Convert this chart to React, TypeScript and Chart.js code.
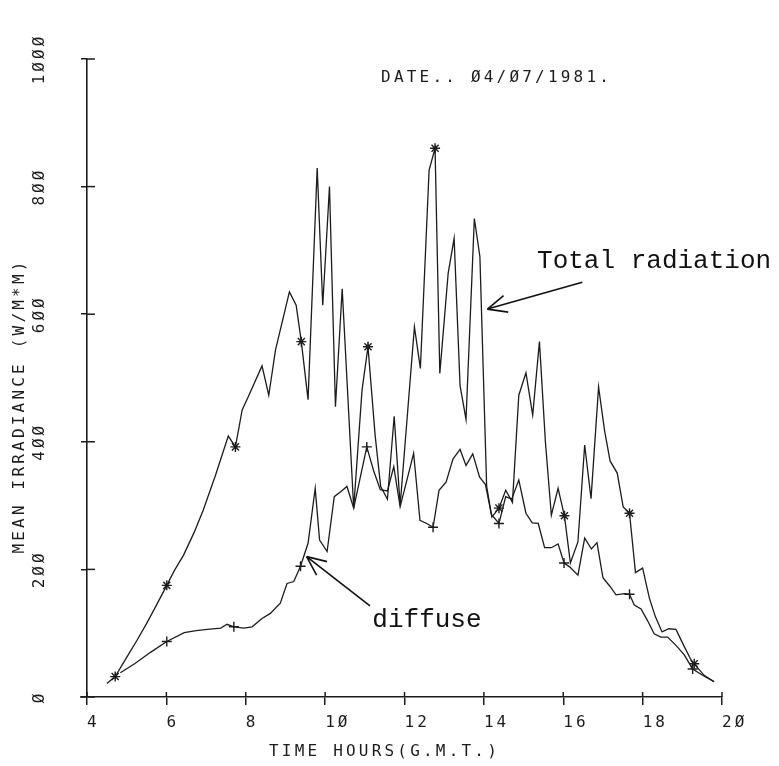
import React, { useEffect, useRef } from 'react';
import { Chart, registerables } from 'chart.js';

Chart.register(...registerables);

// ---------------- data ----------------
const totalTimes = [
  4.5, 4.71, 5.0, 5.26, 5.5, 5.75, 6.01, 6.2, 6.43, 6.7, 6.93, 7.24, 7.56, 7.74, 7.91, 8.08, 8.41, 8.58, 8.75,
  9.1, 9.27, 9.4, 9.57, 9.8, 9.94, 10.11, 10.26, 10.43, 10.72, 10.93, 11.08, 11.26, 11.4, 11.57, 11.74, 11.89,
  12.07, 12.25, 12.4, 12.62, 12.77, 12.89, 13.1, 13.25, 13.4, 13.55, 13.76, 13.9, 14.07, 14.2, 14.38, 14.55,
  14.72, 14.88, 15.06, 15.23, 15.4, 15.55, 15.7, 15.87, 16.03, 16.18, 16.37, 16.54, 16.7, 16.89, 17.04, 17.18,
  17.36, 17.51, 17.67, 17.82, 18.0, 18.17, 18.32, 18.49, 18.66, 18.84, 19.05, 19.22, 19.3, 19.55, 19.8,
];
const totalValues = [
  21, 32, 62, 89, 115, 144, 175, 198, 222, 258, 293, 348, 409, 392, 450, 473, 519, 473, 544,
  635, 614, 557, 466, 829, 614, 800, 455, 640, 296, 481, 549, 410, 330, 310, 440, 300,
  440, 580, 515, 826, 860, 507, 664, 719, 488, 435, 750, 690, 330, 282, 296, 324,
  305, 473, 508, 442, 557, 400, 285, 327, 284, 210, 243, 395, 311, 486, 418, 370,
  351, 298, 288, 195, 202, 155, 126, 102, 107, 106, 79, 58, 52, 34, 24,
];
const totalMarkerIdx = [1, 6, 13, 21, 30, 40, 50, 60, 70, 80];

const diffuseTimes = [
  4.84, 5.2, 5.6, 6.01, 6.45, 6.75, 7.03, 7.37, 7.53, 7.7, 7.95, 8.16, 8.41, 8.62, 8.87, 9.04, 9.21, 9.38,
  9.57, 9.75, 9.86, 10.05, 10.23, 10.4, 10.55, 10.72, 11.05, 11.22, 11.39, 11.57, 11.73, 11.89, 12.06, 12.23,
  12.39, 12.56, 12.72, 12.87, 13.05, 13.22, 13.4, 13.55, 13.72, 13.89, 14.04, 14.19, 14.38, 14.55, 14.7,
  14.88, 15.06, 15.22, 15.37, 15.53, 15.7, 15.87, 16.02, 16.16, 16.37, 16.54, 16.71, 16.85, 17.0, 17.17,
  17.33, 17.54, 17.67, 17.79, 17.96, 18.13, 18.29, 18.46, 18.63, 18.84, 19.05, 19.26, 19.51, 19.8,
];
const diffuseValues = [
  38, 52, 70, 87, 101, 104, 106, 108, 114, 110, 108, 110, 123, 131, 147, 178, 181, 205,
  241, 327, 246, 228, 314, 322, 330, 296, 392, 355, 325, 323, 361, 298, 340, 382,
  277, 272, 266, 324, 337, 373, 388, 363, 381, 345, 333, 286, 272, 314, 310,
  340, 288, 273, 272, 234, 234, 240, 210, 204, 191, 249, 232, 242, 187, 174,
  160, 162, 161, 144, 138, 119, 99, 94, 94, 81, 66, 44, 34, 24,
];
const diffuseMarkerIdx = [3, 9, 17, 26, 36, 46, 56, 66, 75];

const xTickValues = [4, 6, 8, 10, 12, 14, 16, 18, 20];
const xTickLabels = ['4', '6', '8', '1Ø', '12', '14', '16', '18', '2Ø'];
const yTickValues = [0, 200, 400, 600, 800, 1000];
const yTickLabels = ['Ø', '2ØØ', '4ØØ', '6ØØ', '8ØØ', '1ØØØ'];

const titleText = 'DATE.. Ø4/Ø7/1981.';
const xAxisTitle = 'TIME HOURS(G.M.T.)';
const yAxisTitle = 'MEAN IRRADIANCE (W/M*M)';
const totalLabel = 'Total radiation';
const diffuseLabel = 'diffuse';

// annotation anchors in data units [hours, W/m2]
const titlePos = [11.41, 970];
const totalLabelPos = [15.34, 672];
const totalArrowTip = [14.09, 608];
const totalArrowTail = [16.48, 650];
const diffuseLabelPos = [11.19, 109];
const diffuseArrowTip = [9.535, 220];
const diffuseArrowTail = [11.13, 143];

// ---------------- styling ----------------
const INK = '#1c1c1c';
const PLOT_FONT = '"DejaVu Sans Mono", monospace';
const TYPE_FONT = '"Liberation Mono", "Courier New", monospace';

const decorPlugin = {
  id: 'decor',
  beforeLayout(chart: any) {
    chart.ctx.letterSpacing = '3px';
  },
  beforeDraw(chart: any) {
    const ctx = chart.ctx;
    ctx.save();
    ctx.fillStyle = '#ffffff';
    ctx.fillRect(0, 0, chart.width, chart.height);
    ctx.restore();
    ctx.letterSpacing = '3px';
  },
  afterDraw(chart: any) {
    const { ctx, chartArea: ca, scales } = chart;
    const xs = scales.x;
    const ys = scales.y;
    const px = (v: number) => xs.getPixelForValue(v);
    const py = (v: number) => ys.getPixelForValue(v);
    const line = (x1: number, y1: number, x2: number, y2: number) => {
      ctx.beginPath();
      ctx.moveTo(x1, y1);
      ctx.lineTo(x2, y2);
      ctx.stroke();
    };
    ctx.save();
    ctx.strokeStyle = INK;
    ctx.lineWidth = 1.5;
    // inward halves of tick marks
    xs.ticks.forEach((t: any) => line(px(t.value), ca.bottom, px(t.value), ca.bottom - 5));
    ys.ticks.forEach((t: any) => line(ca.left, py(t.value), ca.left + 8, py(t.value)));
    line(ca.left - 7, ca.bottom, ca.left, ca.bottom);

    // plotter texts
    ctx.fillStyle = INK;
    ctx.font = `16px ${PLOT_FONT}`;
    ctx.letterSpacing = '3.2px';
    ctx.textBaseline = 'middle';
    ctx.textAlign = 'left';
    ctx.fillText(titleText, px(titlePos[0]), py(titlePos[1]));
    ctx.textAlign = 'center';
    ctx.fillText(xAxisTitle, (ca.left + ca.right) / 2 - 20, ca.bottom + 55);
    ctx.save();
    ctx.translate(20, (ca.top + ca.bottom) / 2 + 28);
    ctx.rotate(-Math.PI / 2);
    ctx.fillText(yAxisTitle, 0, 0);
    ctx.restore();

    // typed annotations
    ctx.letterSpacing = '0px';
    ctx.font = `26px ${TYPE_FONT}`;
    ctx.fillStyle = '#111';
    ctx.textAlign = 'left';
    ctx.textBaseline = 'alphabetic';
    ctx.fillText(totalLabel, px(totalLabelPos[0]), py(totalLabelPos[1]));
    ctx.fillText(diffuseLabel, px(diffuseLabelPos[0]), py(diffuseLabelPos[1]));

    const arrow = (tip: number[], tail: number[]) => {
      const tx = px(tip[0]);
      const ty = py(tip[1]);
      const sx = px(tail[0]);
      const sy = py(tail[1]);
      ctx.strokeStyle = '#111';
      ctx.lineWidth = 1.6;
      line(sx, sy, tx, ty);
      const a = Math.atan2(sy - ty, sx - tx);
      const len = 21;
      line(tx, ty, tx + len * Math.cos(a + 0.42), ty + len * Math.sin(a + 0.42));
      line(tx, ty, tx + len * Math.cos(a - 0.42), ty + len * Math.sin(a - 0.42));
    };
    arrow(totalArrowTip, totalArrowTail);
    arrow(diffuseArrowTip, diffuseArrowTail);
    ctx.restore();
  },
};

export default function App() {
  const canvasRef = useRef<HTMLCanvasElement | null>(null);

  useEffect(() => {
    const canvas = canvasRef.current;
    if (!canvas) return;
    const totalData = totalTimes.map((t, i) => ({ x: t, y: totalValues[i] }));
    const diffuseData = diffuseTimes.map((t, i) => ({ x: t, y: diffuseValues[i] }));
    const chart = new Chart(canvas, {
      type: 'line',
      data: {
        datasets: [
          {
            label: 'Total radiation',
            data: totalData,
            borderColor: INK,
            borderWidth: 1.3,
            tension: 0,
            fill: false,
            pointStyle: 'star',
            pointRadius: totalTimes.map((_, i) => (totalMarkerIdx.includes(i) ? 5 : 0)),
            pointBorderColor: INK,
            pointBackgroundColor: INK,
            pointBorderWidth: 1.4,
          },
          {
            label: 'diffuse',
            data: diffuseData,
            borderColor: INK,
            borderWidth: 1.3,
            tension: 0,
            fill: false,
            pointStyle: 'cross',
            pointRadius: diffuseTimes.map((_, i) => (diffuseMarkerIdx.includes(i) ? 5 : 0)),
            pointBorderColor: INK,
            pointBackgroundColor: INK,
            pointBorderWidth: 1.4,
          },
        ],
      },
      options: {
        responsive: false,
        animation: false,
        events: [],
        layout: { padding: { top: 59, right: 57, left: 0, bottom: 0 } },
        plugins: { legend: { display: false }, title: { display: false }, tooltip: { enabled: false } },
        scales: {
          x: {
            type: 'linear',
            min: 4,
            max: 20,
            afterBuildTicks: (s: any) => {
              s.ticks = xTickValues.map((v) => ({ value: v }));
            },
            afterFit: (s: any) => {
              s.height = 69;
            },
            border: { display: true, color: INK, width: 1.6 },
            grid: { drawOnChartArea: false, drawTicks: true, tickLength: 8, color: INK, lineWidth: 1.5 },
            ticks: {
              color: INK,
              font: { family: PLOT_FONT, size: 16 },
              align: 'start',
              padding: 8,
              maxRotation: 0,
              callback: (_v: any, i: number) => xTickLabels[i],
            },
          },
          y: {
            type: 'linear',
            min: 0,
            max: 1000,
            afterBuildTicks: (s: any) => {
              s.ticks = yTickValues.map((v) => ({ value: v }));
            },
            afterFit: (s: any) => {
              s.width = 87;
            },
            border: { display: true, color: INK, width: 1.6 },
            grid: { drawOnChartArea: false, drawTicks: true, tickLength: 6, color: INK, lineWidth: 1.5 },
            ticks: {
              color: INK,
              font: { family: PLOT_FONT, size: 16 },
              minRotation: 90,
              maxRotation: 90,
              crossAlign: 'center',
              padding: 16,
              callback: (_v: any, i: number) => yTickLabels[i],
            },
          },
        },
      },
      plugins: [decorPlugin],
    } as any);
    return () => chart.destroy();
  }, []);

  return (
    <div style={{ position: 'absolute', left: 0, top: 0, width: 779, height: 766, background: '#fff' }}>
      <canvas ref={canvasRef} width={779} height={766} style={{ width: 779, height: 766, display: 'block' }} />
    </div>
  );
}
